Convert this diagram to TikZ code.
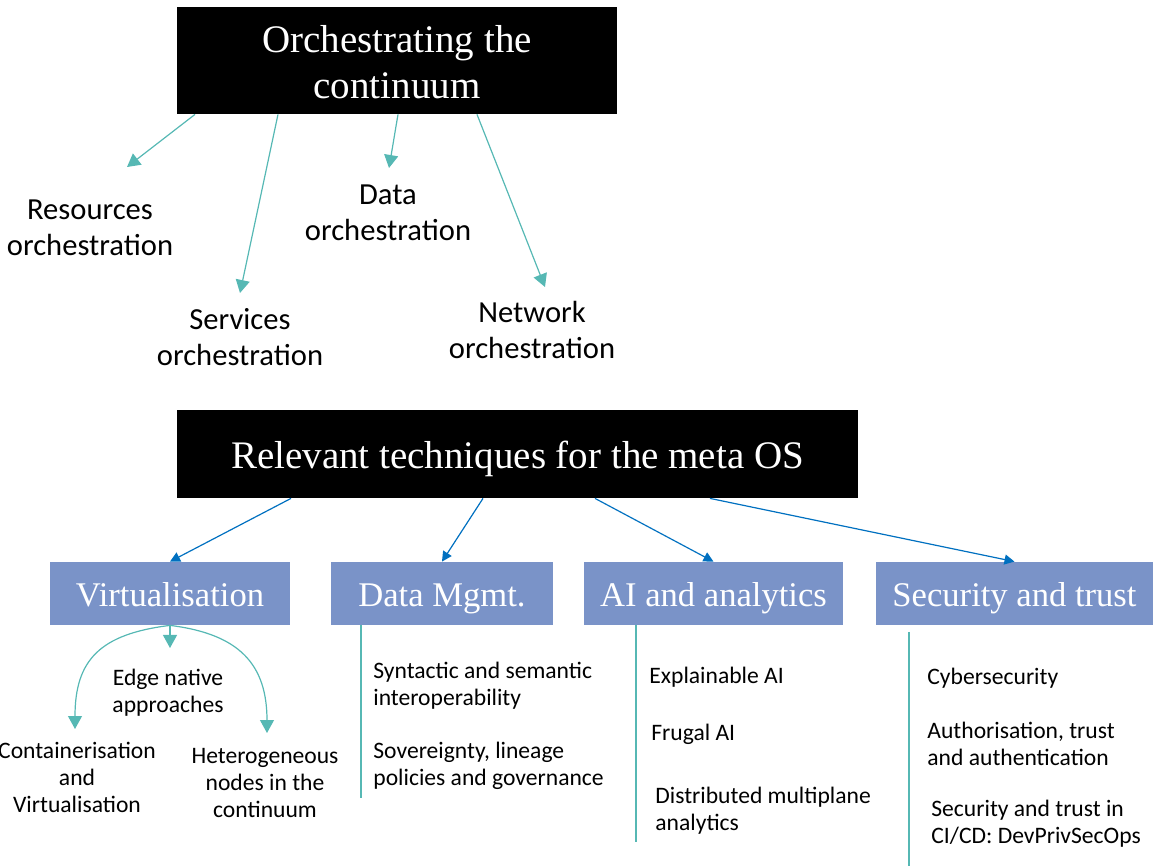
\documentclass[tikz,border=0pt]{standalone}
\usepackage{fontspec}
\setmainfont{Liberation Serif}
\newfontfamily\lblfont{Carlito}
\usetikzlibrary{arrows.meta}
\definecolor{tealln}{RGB}{86,184,180}
\definecolor{bluearr}{RGB}{0,112,192}
\definecolor{boxblue}{RGB}{122,147,200}

\begin{document}
\begin{tikzpicture}[x=0.5pt,y=-0.5pt,
  headbox/.style={fill=black,text=white,inner sep=0pt,align=center,
    font=\fontsize{19.5}{23}\selectfont},
  techbox/.style={fill=boxblue,text=white,inner sep=0pt,minimum height=31.5pt,
    text height=12.8pt,text depth=0pt,font=\fontsize{17.3}{20}\selectfont},
  toplbl/.style={align=center,font=\lblfont\fontsize{15.3}{18}\selectfont},
  sublbl/.style={align=center,font=\lblfont\fontsize{11.8}{13.5}\selectfont},
  itemlbl/.style={anchor=west,align=left,inner sep=0pt,font=\lblfont\fontsize{11.8}{13.5}\selectfont},
  tl/.style={draw=tealln,line width=0.6pt,-{Triangle[length=6.5pt,width=7pt]},fill=none},
  tlplain/.style={draw=tealln,line width=0.6pt},
  bl/.style={draw=bluearr,line width=0.6pt,-{Triangle[length=5pt,width=5pt]}}]
  \useasboundingbox (0,0) rectangle (1153,866);

  \node[headbox,minimum width=220pt,minimum height=53.5pt,text height=38.5pt,text depth=0pt] (orch) at (397,60.5) {Orchestrating the\\continuum};
  \node[toplbl] (res) at (90,227.5) {Resources\\orchestration};
  \node[toplbl] (dat) at (388,213) {Data\\orchestration};
  \node[toplbl] (srv) at (240,337.5) {Services\\orchestration};
  \node[toplbl] (net) at (532,330) {Network\\orchestration};
  \coordinate (t1) at (127,167);
  \coordinate (t2) at (240,293);
  \coordinate (t3) at (389,168);
  \coordinate (t4) at (545,287);
  \foreach \dx/\t in {-101/t1,-59.5/t2,0.5/t3,40/t4}
    \draw[tl] ([xshift=\dx pt]orch.south) -- (\t);

  \node[headbox,minimum width=340.5pt,minimum height=44pt,text height=16pt,text depth=1.9pt] (meta) at (517.5,454) {Relevant techniques for the meta OS};
  \node[techbox,minimum width=120pt] (virt) at (170,593.5) {Virtualisation};
  \node[techbox,minimum width=111pt] (data) at (442,593.5) {Data Mgmt.};
  \node[techbox,minimum width=129.5pt] (ai) at (713.5,593.5) {AI and analytics};
  \node[techbox,minimum width=138.5pt] (sec) at (1014.5,593.5) {Security and trust};
  \foreach \dx/\t in {-113.25/virt,-17.25/data,38.75/ai,96.25/sec}
    \draw[bl] ([xshift=\dx pt]meta.south) -- (\t.north);

  % virtualisation branch
  \node[sublbl] (edge) at (168,693) {Edge native\\approaches};
  \node[sublbl] (cont) at (77,777) {Containerisation\\and\\Virtualisation};
  \node[sublbl] (het) at (265,783) {Heterogeneous\\nodes in the\\continuum};
  \coordinate (e1) at (170,648);
  \coordinate (e2) at (75,729);
  \coordinate (e3) at (267,733);
  \draw[tl] (virt.south) -- (e1);
  \draw[tl] (virt.south) .. controls (100,634) and (75,660) .. (e2);
  \draw[tl] (virt.south) .. controls (240,634) and (267,665) .. (e3);

  % item lists
  \coordinate (d1) at (361,798);
  \coordinate (a1) at (636,842);
  \coordinate (s0) at (909,632);
  \coordinate (s1) at (909,866);
  \draw[tlplain] ([xshift=-40.5pt]data.south) -- (d1);
  \draw[tlplain] ([xshift=-38.75pt]ai.south) -- (a1);
  \draw[tlplain] (s0) -- (s1);
  \node[itemlbl] (syn) at (373,685.5) {Syntactic and semantic\\interoperability};
  \node[itemlbl] (sov) at (373,765.5) {Sovereignty, lineage\\policies and governance};
  \node[itemlbl] (xai) at (649,677) {Explainable AI};
  \node[itemlbl] (fru) at (651,734) {Frugal AI};
  \node[itemlbl] (dis) at (655,810.5) {Distributed multiplane\\analytics};
  \node[itemlbl] (cyb) at (927,678) {Cybersecurity};
  \node[itemlbl] (aut) at (927,744) {Authorisation, trust\\and authentication};
  \node[itemlbl] (cicd) at (931,823.5) {Security and trust in\\CI/CD: DevPrivSecOps};
\end{tikzpicture}
\end{document}
